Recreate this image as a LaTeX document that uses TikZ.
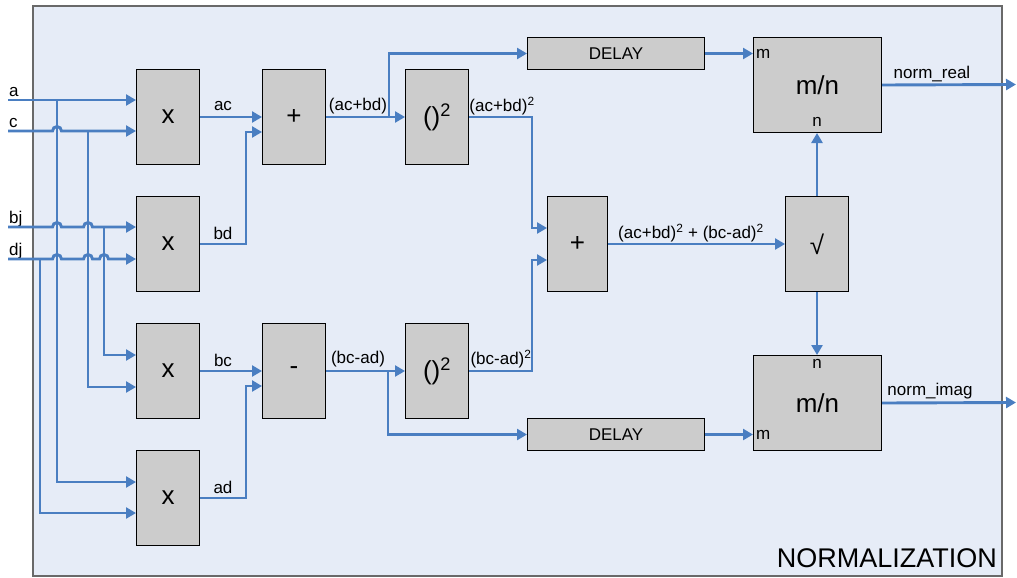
\documentclass[tikz,border=0pt]{standalone}
\usepackage{fontspec}
\setmainfont{Liberation Sans}
\usetikzlibrary{arrows.meta}
\definecolor{wirec}{RGB}{74,126,193}
\definecolor{bgc}{RGB}{230,236,247}
\definecolor{boxc}{RGB}{204,204,204}
\definecolor{framec}{RGB}{105,105,105}
\begin{document}
\begin{tikzpicture}[x=1pt,y=1pt,
  wire/.style={draw=wirec, line width=2.9pt, -{Triangle[length=10pt,width=11pt]}},
  op/.style={draw=black, fill=boxc, line width=1pt, minimum width=63pt, minimum height=95pt, inner sep=0pt, anchor=north west, font=\fontsize{26}{28}\selectfont},
  delaybox/.style={draw=black, fill=boxc, line width=1pt, minimum width=177pt, minimum height=32pt, inner sep=0pt, anchor=north west, font=\fontsize{17}{19}\selectfont},
  lbl/.style={font=\fontsize{17}{19}\selectfont, inner sep=0pt}]
\useasboundingbox (0,0) rectangle (1017,-578);
\draw[draw=framec, fill=bgc, line width=1.2pt] (33,-6) rectangle (1002,-576);

% boxes
\node[op] (m1) at (136,-69) {x};
\node[op] (m2) at (136,-196) {x};
\node[op] (m3) at (136,-323) {x};
\node[op] (m4) at (136,-450) {x};
\node[op] (add1) at (262,-69) {+};
\node[op] (sub1) at (262,-323) {-};
\node[op] (sq1) at (405,-69) {()\textsuperscript{2}};
\node[op] (sq2) at (405,-323) {()\textsuperscript{2}};
\node[op, minimum width=60pt] (add2) at (547,-196) {+};
\node[op] (sqrt) at (785,-196) {√};
\node[op, minimum width=128pt] (mnr) at (753,-37) {m/n};
\node[op, minimum width=128pt] (mni) at (753,-355) {m/n};
\node[delaybox] (d1) at (527,-37) {DELAY};
\node[delaybox] (d2) at (527,-418) {DELAY};

% inputs
\coordinate (ina) at (8,-100);
\coordinate (inc) at (8,-131);
\coordinate (inb) at (8,-227);
\coordinate (ind) at (8,-259);
\node[lbl, anchor=base west] (la) at (9,-96) {a};
\node[lbl, anchor=base west] (lc) at (9,-127) {c};
\node[lbl, anchor=base west] (lb) at (9,-223) {bj};
\node[lbl, anchor=base west] (ld) at (9,-255) {dj};

\draw[wire] (ina) -- (ina -| m1.west);
\draw[wire] (inc) -- (52.5,-131) arc[start angle=180,end angle=0,radius=4.5] -- (inc -| m1.west);
\draw[wire] (inb) -- (52.5,-227) arc[start angle=180,end angle=0,radius=4.5]
  -- (83.5,-227) arc[start angle=180,end angle=0,radius=4.5] -- (inb -| m2.west);
\draw[wire] (ind) -- (52.5,-259) arc[start angle=180,end angle=0,radius=4.5]
  -- (83.5,-259) arc[start angle=180,end angle=0,radius=4.5]
  -- (99.5,-259) arc[start angle=180,end angle=0,radius=4.5] -- (ind -| m2.west);

\coordinate (ja) at (57,-100);
\coordinate (jc) at (88,-131);
\coordinate (jb) at (104,-227);
\coordinate (jd) at (40,-259);
\draw[wire] (ja) -- (57,-482) -- (m4.west |- 0,-482);
\draw[wire] (jd) -- (40,-513) -- (m4.west |- 0,-513);
\draw[wire] (jc) -- (88,-387) -- (m3.west |- 0,-387);
\draw[wire] (jb) -- (104,-355) -- (m3.west |- 0,-355);

% multiplier outputs
\draw[wire] (m1.east) -- (add1.west);
\draw[wire] (m2.east) -| (246,-132) -- (add1.west |- 0,-132);
\draw[wire] (m3.east) -- (sub1.west);
\draw[wire] (m4.east) -| (246,-386) -- (sub1.west |- 0,-386);
\node[lbl] (lac) at (223,-106) {ac};
\node[lbl] (lbd) at (223,-233) {bd};
\node[lbl] (lbc) at (223,-360) {bc};
\node[lbl] (lad) at (223,-487) {ad};

% adder / subtractor outputs
\draw[wire] (add1.east) -- (sq1.west);
\draw[wire] (389,-116.5) |- (d1.west);
\draw[wire] (sub1.east) -- (sq2.west);
\draw[wire] (388,-370.5) |- (d2.west);
\node[lbl] (lsum) at (358,-106) {(ac+bd)};
\node[lbl] (ldif) at (358,-359) {(bc-ad)};

% squarer outputs
\draw[wire] (sq1.east) -| (532,-228) -- (add2.west |- 0,-228);
\draw[wire] (sq2.east) -| (532,-260) -- (add2.west |- 0,-260);
\node[lbl] (lsq1) at (502,-106) {(ac+bd)\textsuperscript{2}};
\node[lbl] (lsq2) at (501,-359) {(bc-ad)\textsuperscript{2}};

% sum of squares and root
\draw[wire] (add2.east) -- (sqrt.west);
\node[lbl] (lss) at (691,-233) {(ac+bd)\textsuperscript{2} + (bc-ad)\textsuperscript{2}};
\draw[wire] (sqrt.north) -- (sqrt.north |- mnr.south);
\draw[wire] (sqrt.south) -- (sqrt.south |- mni.north);

% delays to dividers
\draw[wire] (d1.east) -- (mnr.west |- d1.east);
\draw[wire] (d2.east) -- (mni.west |- d2.east);

% divider port labels
\node[lbl, anchor=west] (mr) at (756,-54) {m};
\node[lbl] (nr) at (817,-122) {n};
\node[lbl] (ni) at (817,-364) {n};
\node[lbl, anchor=west] (mi) at (756,-435) {m};

% outputs
\coordinate (outr) at (1016,-84.5);
\coordinate (outi) at (1016,-402.5);
\draw[wire] (mnr.east) -- (outr);
\draw[wire] (mni.east) -- (outi);
\node[lbl] (lnr) at (932,-74) {norm\_real};
\node[lbl] (lni) at (930,-391) {norm\_imag};

\node[font=\fontsize{27}{29}\selectfont, inner sep=0pt, anchor=east] (title) at (997,-558) {NORMALIZATION};
\end{tikzpicture}
\end{document}
